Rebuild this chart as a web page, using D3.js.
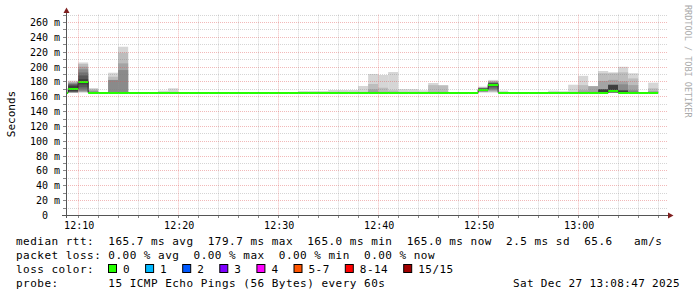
<!DOCTYPE html>
<html>
<head>
<meta charset="utf-8">
<script src="https://cdn.jsdelivr.net/npm/d3@7"></script>
<style>
html, body { margin: 0; padding: 0; background: #fff; }
svg { display: block; }
text { font-family: "DejaVu Sans Mono", monospace; fill: #000; }
</style>
</head>
<body>
<svg id="mainsvg" width="697" height="297"></svg>
<script>
// view window and axis labels
const viewStart = "12:08:47"
const viewEnd = "13:08:47"
const yTickValues = [0, 20, 40, 60, 80, 100, 120, 140, 160, 180, 200, 220, 240, 260]
const yTickLabels = ["0", "20 m", "40 m", "60 m", "80 m", "100 m", "120 m", "140 m", "160 m", "180 m", "200 m", "220 m", "240 m", "260 m"]
const xTickLabels = ["12:10", "12:20", "12:30", "12:40", "12:50", "13:00"]

// one bin per minute, median rtt in ms
const binTimes = [
  "12:08", "12:09", "12:10", "12:11", "12:12", "12:13", "12:14", "12:15", "12:16", "12:17",
  "12:18", "12:19", "12:20", "12:21", "12:22", "12:23", "12:24", "12:25", "12:26", "12:27",
  "12:28", "12:29", "12:30", "12:31", "12:32", "12:33", "12:34", "12:35", "12:36", "12:37",
  "12:38", "12:39", "12:40", "12:41", "12:42", "12:43", "12:44", "12:45", "12:46", "12:47",
  "12:48", "12:49", "12:50", "12:51", "12:52", "12:53", "12:54", "12:55", "12:56", "12:57",
  "12:58", "12:59", "13:00", "13:01", "13:02", "13:03", "13:04", "13:05", "13:06", "13:07"
]
const medianRtt = [
  165.0, 170.4, 179.7, 165.0, 165.0, 165.0, 165.0, 165.0, 165.0, 165.0,
  165.0, 165.0, 165.0, 165.0, 165.0, 165.0, 165.0, 165.0, 165.0, 165.0,
  165.0, 165.0, 165.0, 165.0, 165.0, 165.0, 165.0, 165.0, 165.0, 165.0,
  165.0, 165.0, 165.0, 165.0, 165.0, 165.0, 165.0, 165.0, 165.0, 165.0,
  165.0, 165.0, 169.5, 175.4, 165.0, 165.0, 165.0, 165.0, 165.0, 165.0,
  165.0, 165.0, 165.0, 165.0, 165.5, 167.5, 165.2, 165.0, 165.0, 165.0
]
// packet loss per bin (pings lost of 15)
const lossCount = binTimes.map(() => 0)

// sorted 15 pings (ms) for the bins that show smoke
const smokeTimes = [
  "12:09", "12:10", "12:11", "12:13", "12:14", "12:18", "12:19", "12:32", "12:33", "12:34",
  "12:35", "12:36", "12:37", "12:38", "12:39", "12:40", "12:41", "12:42", "12:43", "12:44",
  "12:45", "12:46", "12:50", "12:51", "12:52", "12:57", "12:58", "12:59", "13:00", "13:01",
  "13:02", "13:03", "13:04", "13:05", "13:07"
]
const smokePings = [
  [165.0, 165.1, 165.2, 165.3, 165.5, 166.0, 167.0, 170.4, 174.0, 175.5, 176.5, 177.5, 178.5, 179.0, 181.0],
  [165.0, 165.5, 166.0, 167.0, 169.0, 172.0, 176.0, 179.7, 183.0, 188.0, 192.0, 196.3, 199.8, 203.4, 205.5],
  [165.0, 165.0, 165.0, 165.0, 165.0, 165.0, 165.0, 165.0, 165.2, 165.5, 165.8, 166.5, 168.0, 169.8, 171.0],
  [165.0, 165.0, 165.0, 165.0, 165.0, 165.0, 165.0, 165.0, 165.2, 165.3, 165.5, 181.8, 182.0, 186.3, 191.7],
  [165.0, 165.0, 165.0, 165.0, 165.0, 165.0, 165.0, 165.0, 165.2, 165.4, 165.6, 195.3, 204.3, 218.7, 226.7],
  [165.0, 165.0, 165.0, 165.0, 165.0, 165.0, 165.0, 165.0, 165.0, 165.0, 165.0, 165.0, 165.0, 165.0, 167.5],
  [165.0, 165.0, 165.0, 165.0, 165.0, 165.0, 165.0, 165.0, 165.0, 165.0, 165.0, 165.0, 165.0, 166.0, 170.7],
  [165.0, 165.0, 165.0, 165.0, 165.0, 165.0, 165.0, 165.0, 165.0, 165.0, 165.0, 165.0, 165.0, 165.0, 167.0],
  [165.0, 165.0, 165.0, 165.0, 165.0, 165.0, 165.0, 165.0, 165.0, 165.0, 165.0, 165.0, 165.0, 165.0, 167.0],
  [165.0, 165.0, 165.0, 165.0, 165.0, 165.0, 165.0, 165.0, 165.0, 165.0, 165.0, 165.0, 165.0, 165.0, 167.0],
  [165.0, 165.0, 165.0, 165.0, 165.0, 165.0, 165.0, 165.0, 165.0, 165.0, 165.0, 165.0, 165.0, 166.0, 168.4],
  [165.0, 165.0, 165.0, 165.0, 165.0, 165.0, 165.0, 165.0, 165.0, 165.0, 165.0, 165.0, 165.0, 166.0, 168.4],
  [165.0, 165.0, 165.0, 165.0, 165.0, 165.0, 165.0, 165.0, 165.0, 165.0, 165.0, 165.0, 165.0, 166.0, 168.4],
  [165.0, 165.0, 165.0, 165.0, 165.0, 165.0, 165.0, 165.0, 165.0, 165.0, 165.0, 165.0, 165.0, 166.0, 173.8],
  [165.0, 165.0, 165.0, 165.0, 165.0, 165.0, 165.0, 165.0, 165.0, 165.0, 165.0, 166.0, 169.3, 176.5, 190.0],
  [165.0, 165.0, 165.0, 165.0, 165.0, 165.0, 165.0, 165.0, 165.0, 165.0, 165.0, 165.0, 166.0, 171.5, 188.6],
  [165.0, 165.0, 165.0, 165.0, 165.0, 165.0, 165.0, 165.0, 165.0, 165.0, 165.0, 165.0, 166.0, 168.0, 192.6],
  [165.0, 165.0, 165.0, 165.0, 165.0, 165.0, 165.0, 165.0, 165.0, 165.0, 165.0, 165.0, 165.0, 166.0, 169.6],
  [165.0, 165.0, 165.0, 165.0, 165.0, 165.0, 165.0, 165.0, 165.0, 165.0, 165.0, 165.0, 165.0, 166.0, 169.6],
  [165.0, 165.0, 165.0, 165.0, 165.0, 165.0, 165.0, 165.0, 165.0, 165.0, 165.0, 165.0, 165.0, 165.5, 168.0],
  [165.0, 165.0, 165.0, 165.0, 165.0, 165.0, 165.0, 165.0, 165.0, 165.0, 165.0, 165.0, 166.0, 175.0, 177.8],
  [165.0, 165.0, 165.0, 165.0, 165.0, 165.0, 165.0, 165.0, 165.0, 165.0, 165.0, 165.0, 166.0, 174.5, 175.0],
  [165.0, 165.5, 166.0, 166.5, 167.0, 167.5, 168.5, 169.5, 170.0, 170.3, 170.6, 171.0, 171.5, 172.0, 173.0],
  [165.0, 166.0, 167.0, 168.5, 170.0, 172.0, 173.5, 175.4, 177.0, 177.5, 178.0, 179.0, 180.0, 180.5, 182.0],
  [165.0, 165.0, 165.0, 165.0, 165.0, 165.0, 165.0, 165.0, 165.0, 165.0, 165.0, 165.0, 165.0, 165.0, 167.5],
  [165.0, 165.0, 165.0, 165.0, 165.0, 165.0, 165.0, 165.0, 165.0, 165.0, 165.0, 165.0, 165.0, 165.0, 167.5],
  [165.0, 165.0, 165.0, 165.0, 165.0, 165.0, 165.0, 165.0, 165.0, 165.0, 165.0, 165.0, 165.0, 165.0, 166.8],
  [165.0, 165.0, 165.0, 165.0, 165.0, 165.0, 165.0, 165.0, 165.0, 165.0, 165.0, 165.0, 165.0, 166.0, 175.5],
  [165.0, 165.0, 165.0, 165.0, 165.0, 165.0, 165.0, 165.0, 165.0, 165.0, 165.0, 165.5, 168.0, 175.0, 187.5],
  [165.0, 165.0, 165.0, 165.0, 165.0, 165.0, 165.0, 165.0, 165.0, 165.0, 165.0, 166.0, 173.4, 173.6, 173.8],
  [165.0, 165.0, 165.0, 165.0, 165.0, 165.0, 165.2, 165.5, 169.0, 169.2, 169.3, 169.5, 180.5, 191.0, 194.0],
  [165.0, 165.0, 165.0, 165.0, 165.0, 165.5, 166.0, 167.5, 175.0, 175.2, 175.5, 176.0, 182.0, 191.0, 192.3],
  [165.0, 165.0, 165.0, 165.0, 165.0, 165.0, 165.0, 165.2, 167.5, 167.8, 168.0, 176.0, 180.0, 192.2, 199.7],
  [165.0, 165.0, 165.0, 165.0, 165.0, 165.0, 165.0, 165.0, 165.0, 165.0, 166.0, 168.0, 175.0, 184.0, 191.0],
  [165.0, 165.0, 165.0, 165.0, 165.0, 165.0, 165.0, 165.0, 165.0, 165.0, 165.0, 165.0, 167.0, 170.7, 178.3]
]

// legend
const lossLabels = ["0", "1", "2", "3", "4", "5-7", "8-14", "15/15"]
const lossColors = ["#26ff00", "#00b8ff", "#0059ff", "#7e00ff", "#ff00ff", "#ff5500", "#ff0000", "#a10000"]
const legendLines = [
  "median rtt:  165.7 ms avg  179.7 ms max  165.0 ms min  165.0 ms now  2.5 ms sd  65.6   am/s",
  "packet loss: 0.00 % avg  0.00 % max  0.00 % min  0.00 % now",
  "loss color:",
  "probe:       15 ICMP Echo Pings (56 Bytes) every 60s"
]
const stampText = "Sat Dec 27 13:08:47 2025"

// smokeping smoke shades, outer band first
const smokeShades = ["#d6d6d6", "#bdbdbd", "#a4a4a4", "#8a8a8a", "#717171", "#585858", "#3e3e3e"]

const parse = d3.timeParse("%H:%M:%S")
const parseHM = d3.timeParse("%H:%M")
const svg = d3.select("#mainsvg")

const x = d3.scaleTime().domain([parse(viewStart), parse(viewEnd)]).range([66, 666])
const y = d3.scaleLinear().domain([0, 270]).range([215, 14.6])
const plotLeft = 66, plotRight = 668, plotTop = y(270), plotBottom = y(0)

svg.append("rect").attr("width", 697).attr("height", 297).attr("fill", "#fff")

svg.append("clipPath").attr("id", "plotclip")
  .append("rect").attr("x", plotLeft).attr("y", plotTop).attr("width", 600).attr("height", plotBottom - plotTop)

const plot = svg.append("g").attr("clip-path", "url(#plotclip)")

// smoke
smokeTimes.forEach((t, i) => {
  const p = smokePings[i]
  const t0 = parseHM(t)
  const x0 = x(t0), x1 = x(d3.timeMinute.offset(t0, 1))
  for (let b = 0; b < 7; b++) {
    const lo = p[b], hi = p[14 - b]
    if (hi - lo <= 0) continue
    plot.append("rect")
      .attr("x", x0).attr("width", x1 - x0)
      .attr("y", y(hi)).attr("height", y(lo) - y(hi))
      .attr("fill", smokeShades[b])
  }
})

// grid
const majorGrid = "rgba(222,80,80,0.4)"
const minorGrid = "rgba(128,128,128,0.33)"
const grid = svg.append("g")
d3.range(10, 271, 10).forEach(v => {
  const yy = Math.round(y(v)) + 0.5
  grid.append("line")
    .attr("x1", plotLeft).attr("x2", plotRight).attr("y1", yy).attr("y2", yy)
    .attr("stroke", v % 20 === 0 ? majorGrid : minorGrid)
    .attr("stroke-dasharray", "1,1")
  grid.append("line")
    .attr("x1", 63).attr("x2", 66).attr("y1", yy).attr("y2", yy)
    .attr("stroke", "#888")
})
d3.timeMinute.every(2).range(x.domain()[0], x.domain()[1]).forEach(t => {
  const xx = Math.round(x(t)) + 0.5
  grid.append("line")
    .attr("x1", xx).attr("x2", xx).attr("y1", plotTop).attr("y2", plotBottom)
    .attr("stroke", t.getMinutes() % 10 === 0 ? majorGrid : minorGrid)
    .attr("stroke-dasharray", "1,1")
  grid.append("line")
    .attr("x1", xx).attr("x2", xx).attr("y1", plotBottom).attr("y2", plotBottom + 3)
    .attr("stroke", "#888")
})

// median: dark step line, then loss-coloured band
const medPts = binTimes.map((t, i) => [parseHM(t), medianRtt[i]])
medPts.push([d3.timeMinute.offset(parseHM(binTimes[binTimes.length - 1]), 1), medianRtt[medianRtt.length - 1]])
const stepLine = d3.line().x(d => x(d[0])).y(d => Math.floor(y(d[1])) + 0.5).curve(d3.curveStepAfter)
plot.append("path").attr("d", stepLine(medPts))
  .attr("fill", "none").attr("stroke", "#202020").attr("stroke-width", 1)

binTimes.forEach((t, i) => {
  const t0 = parseHM(t)
  const x0 = x(t0), x1 = x(d3.timeMinute.offset(t0, 1))
  plot.append("rect")
    .attr("x", x0).attr("width", x1 - x0)
    .attr("y", Math.floor(y(medianRtt[i]))).attr("height", 2)
    .attr("fill", lossColors[lossCount[i]])
})

// axes
svg.append("line").attr("x1", 66.5).attr("x2", 66.5).attr("y1", 218).attr("y2", 11)
  .attr("stroke", "#555")
svg.append("line").attr("x1", 62).attr("x2", 669).attr("y1", 215.5).attr("y2", 215.5)
  .attr("stroke", "#555")
svg.append("path").attr("d", "M63.5,13 L69.5,13 L66.5,7.5 Z").attr("fill", "#7f1f1f")
svg.append("path").attr("d", "M668,212.5 L668,218.5 L673.5,215.5 Z").attr("fill", "#7f1f1f")

// tick labels
yTickValues.forEach((v, i) => {
  const lab = yTickLabels[i]
  svg.append("text")
    .attr("x", 60).attr("y", Math.round(y(v)) + 4)
    .attr("text-anchor", "end")
    .style("font-size", "10px")
    .text(v === 0 ? lab + "\u00a0\u00a0" : lab)
})
xTickLabels.forEach(lab => {
  svg.append("text")
    .attr("x", x(parseHM(lab)) + 1).attr("y", 229)
    .attr("text-anchor", "middle")
    .style("font-size", "10px")
    .text(lab)
})

svg.append("text")
  .attr("transform", "translate(15,114) rotate(-90)")
  .attr("text-anchor", "middle")
  .style("font-size", "11px")
  .text("Seconds")

svg.append("text")
  .attr("transform", "translate(685,5) rotate(90)")
  .style("font-size", "8.5px")
  .style("fill", "#aaaaaa")
  .text("RRDTOOL / TOBI OETIKER")

// legend
const legendY = [245, 259, 273, 287]
legendLines.forEach((line, i) => {
  svg.append("text")
    .attr("x", 16).attr("y", legendY[i])
    .attr("xml:space", "preserve")
    .style("white-space", "pre")
    .style("font-size", "11px")
    .style("letter-spacing", "0.48px")
    .text(line)
})
svg.append("text")
  .attr("x", 513).attr("y", legendY[3])
  .style("font-size", "11px")
  .style("letter-spacing", "0.33px")
  .text(stampText)

let lx = 108.5
lossLabels.forEach((lab, i) => {
  svg.append("rect")
    .attr("x", lx).attr("y", 264.5).attr("width", 8).attr("height", 8)
    .attr("fill", lossColors[i]).attr("stroke", "#000").attr("stroke-width", 1)
  svg.append("text")
    .attr("x", lx + 14.5).attr("y", legendY[2])
    .style("font-size", "11px")
    .style("letter-spacing", "0.48px")
    .text(lab)
  lx += 14.5 + lab.length * 7.1 + 15.5
})
</script>
</body>
</html>
